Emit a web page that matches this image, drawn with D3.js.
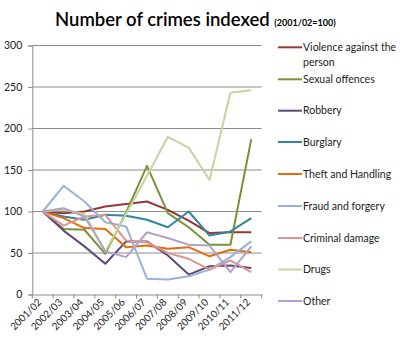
<!DOCTYPE html>
<html><head><meta charset="utf-8">
<script src="https://cdn.jsdelivr.net/npm/d3@7"></script>
<style>body{margin:0;background:#fff}svg{display:block}text{font-family:Lato,"Open Sans",sans-serif}</style>
</head><body><svg id="c" width="400" height="343"></svg>
<script>
const categories = ["2001/02","2002/03","2003/04","2004/05","2005/06","2006/07","2007/08","2008/09","2009/10","2010/11","2011/12"];
const seriesNames = ["Violence against the person","Sexual offences","Robbery","Burglary","Theft and Handling","Fraud and forgery","Criminal damage","Drugs","Other"];
const violence = [100, 98, 100, 106, 109, 112, 102, 89, 74, 75, 75];
const sexual   = [100, 79, 78, 49, 99, 155, 98, 81, 60, 60, 187];
const robbery  = [100, 77, 58, 37, 64, 64, 47, 24, 34, 35, 32];
const burglary = [100, 94, 90, 96, 95, 90, 81, 100, 71, 76, 92];
const theft    = [100, 92, 80, 79, 57, 59, 55, 57, 46, 54, 51];
const fraud    = [100, 131, 112, 87, 82, 19, 18, 22, 30, 45, 64];
const damage   = [100, 83, 94, 96, 65, 63, 50, 43, 30, 41, 27];
const drugs    = [100, 102, 97, 52, 97, 143, 190, 177, 138, 243, 246];
const other    = [100, 104, 94, 52, 45, 75, 68, 60, 59, 27, 58];
const yTicks = [0, 50, 100, 150, 200, 250, 300];
const colors = ["#953735","#77933C","#604A7B","#31859C","#E46C0A","#95B3D7","#D99694","#C3D69B","#B3A2C7"];
const allSeries = [violence, sexual, robbery, burglary, theft, fraud, damage, drugs, other];

const svg = d3.select("#c");
const L = 32.3, R = 261.7, T = 45.5, B = 294.5;
const x = d3.scaleBand().domain(categories).range([L, R]).padding(0);
const y = d3.scaleLinear().domain([0, 300]).range([B, T]);

// title
const title = svg.append("text").attr("x", 55).attr("y", 26).attr("fill", "#000");
title.append("tspan").attr("font-size", "18.5px").attr("font-weight", 600).text("Number of crimes indexed ");
title.append("tspan").attr("font-size", "9px").attr("font-weight", 700).text("(2001/02=100)");

// gridlines
svg.append("g").selectAll("line").data(yTicks.filter(d => d > 0)).join("line")
  .attr("x1", L).attr("x2", R).attr("y1", d => y(d)).attr("y2", d => y(d))
  .attr("stroke", "#8c8c8c").attr("stroke-width", 1);

// y axis
const yAxis = svg.append("g").attr("transform", `translate(${L},0)`)
  .call(d3.axisLeft(y).tickValues(yTicks).tickSize(4).tickPadding(6));
yAxis.select(".domain").attr("stroke", "#8c8c8c");
yAxis.selectAll(".tick line").attr("stroke", "#8c8c8c");
yAxis.selectAll("text").attr("font-size", "10.5px").attr("fill", "#222").attr("font-family", "Lato, sans-serif");

// x axis
const xAxis = svg.append("g").attr("transform", `translate(0,${B})`)
  .call(d3.axisBottom(x).tickSize(0).tickFormat(""));
xAxis.select(".domain").attr("stroke", "#8c8c8c");
svg.append("g").selectAll("line").data(d3.range(categories.length + 1)).join("line")
  .attr("x1", i => L + i * x.step()).attr("x2", i => L + i * x.step())
  .attr("y1", B).attr("y2", B + 4).attr("stroke", "#8c8c8c");
svg.append("g").selectAll("text").data(categories).join("text")
  .attr("transform", d => `translate(${x(d) + x.bandwidth() / 2 - 3},${B + 6}) rotate(-45)`)
  .attr("text-anchor", "end").attr("dy", "0.35em")
  .attr("font-size", "10px").attr("fill", "#222").text(d => d);

// lines
const line = d3.line().x((d, i) => x(categories[i]) + x.bandwidth() / 2).y(d => y(d));
svg.append("g").selectAll("path").data(allSeries).join("path")
  .attr("d", d => line(d)).attr("fill", "none")
  .attr("stroke", (d, i) => colors[i]).attr("stroke-width", 2).attr("stroke-linejoin", "round");

// legend
const legY = [47.3, 79.3, 110.7, 142, 174, 206, 238, 269.5, 301];
const leg = svg.append("g").selectAll("g").data(seriesNames).join("g")
  .attr("transform", (d, i) => `translate(278,${legY[i]})`);
leg.append("line").attr("x1", 0).attr("x2", 24).attr("y1", 0).attr("y2", 0)
  .attr("stroke", (d, i) => colors[i]).attr("stroke-width", 2);
leg.append("text").attr("x", 25).attr("font-size", "10.5px").attr("fill", "#222")
  .each(function(d) {
    const t = d3.select(this);
    if (d === "Violence against the person") {
      t.append("tspan").attr("x", 25).attr("dy", "0.35em").text("Violence against the");
      t.append("tspan").attr("x", 25).attr("dy", "15px").text("person");
    } else {
      t.append("tspan").attr("x", 25).attr("dy", "0.35em").text(d);
    }
  });
</script></body></html>
